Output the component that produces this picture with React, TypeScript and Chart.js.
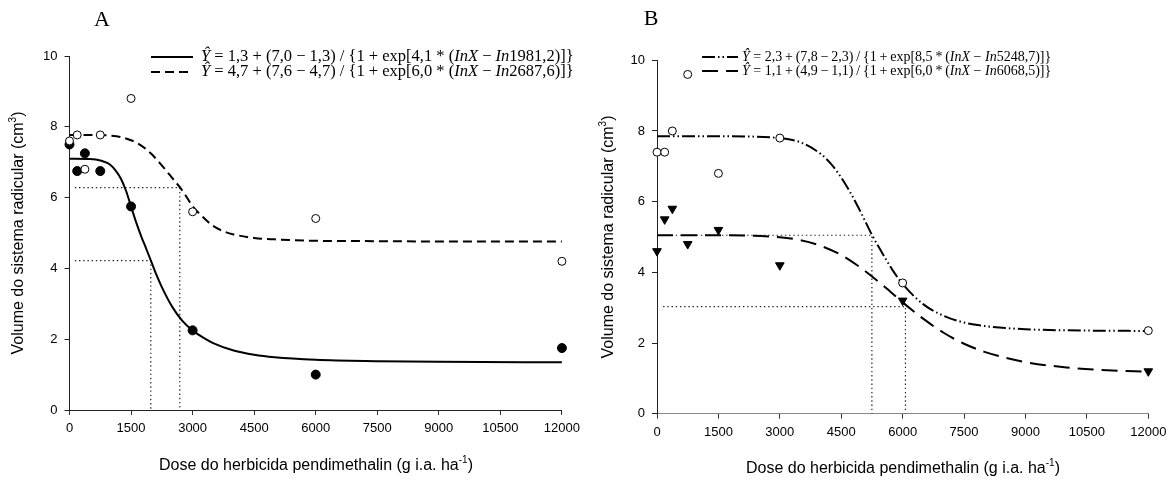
import React, { useEffect, useRef } from "react";
import { Chart, registerables } from "chart.js";
Chart.register(...registerables);

const SANS = "'Liberation Sans', Arial, Helvetica, sans-serif";
const SERIF = "'Liberation Serif', 'Times New Roman', Times, serif";

// ---------- data ----------
const xTickValues = [0, 1500, 3000, 4500, 6000, 7500, 9000, 10500, 12000];
const yTickValues = [0, 2, 4, 6, 8, 10];
const doses = [0, 187.5, 375, 750, 1500, 3000, 6000, 12000];

// Panel A
const aFilled = [7.5, 6.75, 7.25, 6.75, 5.75, 2.25, 1.0, 1.75];
const aOpen = [7.6, 7.77, 6.8, 7.77, 8.8, 5.6, 5.41, 4.2];
const aSolidX = [0, 500, 750, 1000, 1125, 1250, 1375, 1500, 1625, 1750, 1875, 2000, 2125, 2250, 2500, 2750, 3000, 3250, 3500, 4000, 4500, 5000, 6000, 7500, 9000, 12000];
const aSolidY = [7.1, 7.09, 7.05, 6.92, 6.76, 6.54, 6.2, 5.75, 5.3, 4.9, 4.54, 4.17, 3.8, 3.47, 2.92, 2.52, 2.25, 2.05, 1.89, 1.68, 1.56, 1.49, 1.42, 1.38, 1.36, 1.35];
const aDashX = [0, 500, 1000, 1250, 1500, 1750, 2000, 2250, 2500, 2750, 3000, 3250, 3500, 3750, 4000, 4500, 5000, 6000, 7500, 9000, 12000];
const aDashY = [7.77, 7.77, 7.75, 7.71, 7.62, 7.47, 7.23, 6.91, 6.56, 6.2, 5.76, 5.45, 5.2, 5.05, 4.96, 4.86, 4.82, 4.78, 4.77, 4.76, 4.76];
const aRef1X = [130, 1981.2, 1981.2];
const aRef1Y = [4.22, 4.22, 0];
const aRef2X = [130, 2687.6, 2687.6];
const aRef2Y = [6.28, 6.28, 0];

// Panel B
const bOpen = [7.4, 7.4, 8.0, 9.6, 6.8, 7.8, 3.7, 2.35];
const bTri = [4.6, 5.5, 5.8, 4.8, 5.2, 4.2, 3.2, 1.2];
const bDashDotX = [0, 1500, 3000, 3500, 4000, 4250, 4500, 4750, 5000, 5250, 5500, 5750, 6000, 6500, 7000, 7500, 8000, 9000, 10000, 12000];
const bDashDotY = [7.85, 7.85, 7.8, 7.68, 7.35, 7.07, 6.68, 6.2, 5.65, 5.06, 4.55, 4.07, 3.67, 3.1, 2.77, 2.58, 2.48, 2.39, 2.36, 2.34];
const bDashX = [0, 1500, 3000, 3500, 4000, 4500, 5000, 5500, 6000, 6500, 7000, 7500, 8000, 9000, 10000, 11000, 12000];
const bDashY = [5.05, 5.05, 4.99, 4.91, 4.75, 4.49, 4.11, 3.65, 3.15, 2.69, 2.29, 1.98, 1.75, 1.46, 1.31, 1.23, 1.19];
const bRef1X = [150, 5248.7, 5248.7];
const bRef1Y = [5.05, 5.05, 0];
const bRef2X = [150, 6068.5, 6068.5];
const bRef2Y = [3.03, 3.03, 0];

// ---------- text ----------
const yTitle = ["Volume do sistema radicular (cm", "3", ")"];
const xTitle = ["Dose do herbicida pendimethalin (g i.a. ha", "-1", ")"];
type Part = [string, boolean];
const formula = (c: string, d: string, b: string, e: string, s: string): Part[] => [
  ["Ŷ", true],
  [` = ${c}${s}+${s}(${d}${s}−${s}${c})${s}/${s}{1${s}+${s}exp[${b}${s}*${s}(`, false],
  ["InX", true],
  [" − ", false],
  ["In", true],
  [`${e})]}`, false],
];
const legendA = [formula("1,3", "7,0", "4,1", "1981,2", " "), formula("4,7", "7,6", "6,0", "2687,6", " ")];
const legendB = [formula("2,3", "7,8", "8,5", "5248,7", "\u2009"), formula("1,1", "4,9", "6,0", "6068,5", "\u2009")];

// ---------- styles ----------
const SOLID = { dash: [] as number[], width: 2 };
const DASH_A = { dash: [9, 5], width: 2 };
const DASHDOT_B = { dash: [13, 3, 1.5, 3, 1.5, 3], width: 2 };
const DASH_B = { dash: [16, 8], width: 2 };

const pts = (xs: number[], ys: number[]) => xs.map((x, i) => ({ x, y: ys[i] }));

function curve(xs: number[], ys: number[], st: { dash: number[]; width: number }) {
  return {
    data: pts(xs, ys),
    showLine: true,
    borderColor: "#000",
    borderWidth: st.width,
    borderDash: st.dash,
    pointRadius: 0,
    cubicInterpolationMode: "monotone",
    order: 5,
  };
}
function refLine(xs: number[], ys: number[]) {
  return {
    data: pts(xs, ys),
    showLine: true,
    borderColor: "#222",
    borderWidth: 1.2,
    borderDash: [1.4, 2.8],
    pointRadius: 0,
    tension: 0,
    order: 8,
  };
}
function markers(ys: number[], style: string, fill: string, radius: number, order: number, rotation = 0) {
  return {
    data: pts(doses, ys),
    showLine: false,
    pointStyle: style,
    pointRadius: radius,
    pointBackgroundColor: fill,
    pointBorderColor: "#000",
    pointBorderWidth: 1,
    pointRotation: rotation,
    clip: false,
    order,
  };
}

const panels = [
  {
    left: 0,
    w: 586,
    top: 56,
    yWidth: 69.5,
    xHeight: 72,
    padRight: 23.7,
    xBorder: "#222",
    letter: "A",
    letterX: 102,
    letterY: 20,
    yTitleX: 19,
    yTitleY: 233,
    xTitleX: 316,
    xTitleY: 466,
    legend: legendA,
    legendSize: 16.5,
    legendGap: 15,
    legendStyles: [SOLID, DASH_A],
    sampleX0: 151,
    sampleX1: 193,
    textX: 201,
    legendY: 57,
    datasets: [
      markers(aOpen, "circle", "#fff", 4, 0),
      markers(aFilled, "circle", "#000", 4.5, 1),
      curve(aSolidX, aSolidY, SOLID),
      curve(aDashX, aDashY, DASH_A),
      refLine(aRef1X, aRef1Y),
      refLine(aRef2X, aRef2Y),
    ],
  },
  {
    left: 586,
    w: 587,
    top: 60.3,
    yWidth: 71,
    xHeight: 68.3,
    padRight: 24.7,
    xBorder: "#888",
    letter: "B",
    letterX: 65,
    letterY: 19,
    yTitleX: 23,
    yTitleY: 237,
    xTitleX: 317,
    xTitleY: 469,
    legend: legendB,
    legendSize: 14,
    legendGap: 14,
    legendStyles: [DASHDOT_B, DASH_B],
    sampleX0: 116,
    sampleX1: 152,
    textX: 156,
    legendY: 57,
    datasets: [
      markers(bOpen, "circle", "#fff", 4, 0),
      markers(bTri, "triangle", "#000", 5, 1, 180),
      curve(bDashDotX, bDashDotY, DASHDOT_B),
      curve(bDashX, bDashY, DASH_B),
      refLine(bRef1X, bRef1Y),
      refLine(bRef2X, bRef2Y),
    ],
  },
];

function drawTitle(ctx: CanvasRenderingContext2D, parts: string[], size: number) {
  const main = `${size}px ${SANS}`;
  const sup = `${Math.round(size * 0.62)}px ${SANS}`;
  ctx.font = main;
  const w1 = ctx.measureText(parts[0]).width;
  const w3 = ctx.measureText(parts[2]).width;
  ctx.font = sup;
  const w2 = ctx.measureText(parts[1]).width;
  let x = -(w1 + w2 + w3) / 2;
  ctx.textAlign = "left";
  ctx.textBaseline = "middle";
  ctx.font = main;
  ctx.fillText(parts[0], x, 0);
  x += w1;
  ctx.font = sup;
  ctx.fillText(parts[1], x, -size * 0.38);
  x += w2;
  ctx.font = main;
  ctx.fillText(parts[2], x, 0);
}

function drawRich(ctx: CanvasRenderingContext2D, parts: Part[], x: number, y: number, size: number) {
  let cx = x;
  ctx.textAlign = "left";
  ctx.textBaseline = "middle";
  for (const [t, it] of parts) {
    ctx.font = `${it ? "italic " : ""}${size}px ${SERIF}`;
    ctx.fillText(t, cx, y);
    cx += ctx.measureText(t).width;
  }
}

function Panel({ cfg }: { cfg: (typeof panels)[number] }) {
  const ref = useRef<HTMLCanvasElement>(null);
  useEffect(() => {
    const decor = {
      id: "decor",
      afterDraw(chart: Chart) {
        const ctx = chart.ctx;
        ctx.save();
        ctx.fillStyle = "#000";
        ctx.font = `22px ${SERIF}`;
        ctx.textAlign = "center";
        ctx.textBaseline = "middle";
        ctx.fillText(cfg.letter, cfg.letterX, cfg.letterY);

        ctx.save();
        ctx.translate(cfg.yTitleX, cfg.yTitleY);
        ctx.rotate(-Math.PI / 2);
        drawTitle(ctx, yTitle, 16);
        ctx.restore();

        ctx.save();
        ctx.translate(cfg.xTitleX, cfg.xTitleY);
        drawTitle(ctx, xTitle, 16);
        ctx.restore();

        cfg.legend.forEach((row, i) => {
          const y = cfg.legendY + i * cfg.legendGap;
          const st = cfg.legendStyles[i];
          ctx.save();
          ctx.strokeStyle = "#000";
          ctx.lineWidth = st.width;
          ctx.setLineDash(st.dash);
          ctx.beginPath();
          ctx.moveTo(cfg.sampleX0, y);
          ctx.lineTo(cfg.sampleX1, y);
          ctx.stroke();
          ctx.restore();
          drawRich(ctx, row, cfg.textX, y, cfg.legendSize);
        });
        ctx.restore();
      },
    };

    const tickFont = { family: SANS, size: 13 };
    const chart = new Chart(ref.current!, {
      type: "scatter",
      data: { datasets: cfg.datasets as any },
      options: {
        animation: false,
        responsive: false,
        maintainAspectRatio: false,
        events: [],
        layout: { padding: { left: 0, top: cfg.top, right: cfg.padRight, bottom: 0 } },
        plugins: { legend: { display: false }, tooltip: { enabled: false }, title: { display: false } },
        scales: {
          x: {
            type: "linear",
            min: 0,
            max: 12000,
            afterBuildTicks: (s: any) => {
              s.ticks = xTickValues.map((v) => ({ value: v }));
            },
            afterFit: (s: any) => {
              s.height = cfg.xHeight;
            },
            grid: { display: true, drawOnChartArea: false, drawTicks: true, tickLength: 5, color: "#333", lineWidth: 1 },
            border: { display: true, color: cfg.xBorder, width: 1 },
            ticks: { font: tickFont, color: "#000", padding: 6, maxRotation: 0, autoSkip: false, callback: (v: any) => String(v) },
          },
          y: {
            type: "linear",
            min: 0,
            max: 10,
            afterBuildTicks: (s: any) => {
              s.ticks = yTickValues.map((v) => ({ value: v }));
            },
            afterFit: (s: any) => {
              s.width = cfg.yWidth;
            },
            grid: { display: true, drawOnChartArea: false, drawTicks: true, tickLength: 5, color: "#222", lineWidth: 1 },
            border: { display: true, color: "#222", width: 1 },
            ticks: { font: tickFont, color: "#000", padding: 7, autoSkip: false, callback: (v: any) => String(v) },
          },
        },
      } as any,
      plugins: [decor as any],
    });
    return () => chart.destroy();
  }, []);
  return (
    <canvas
      ref={ref}
      width={cfg.w}
      height={482}
      style={{ position: "absolute", left: cfg.left, top: 0, width: cfg.w, height: 482 }}
    />
  );
}

export default function App() {
  return (
    <div style={{ position: "absolute", left: 0, top: 0, width: 1173, height: 482, background: "#fff", overflow: "hidden" }}>
      {panels.map((p) => (
        <Panel key={p.letter} cfg={p} />
      ))}
    </div>
  );
}
